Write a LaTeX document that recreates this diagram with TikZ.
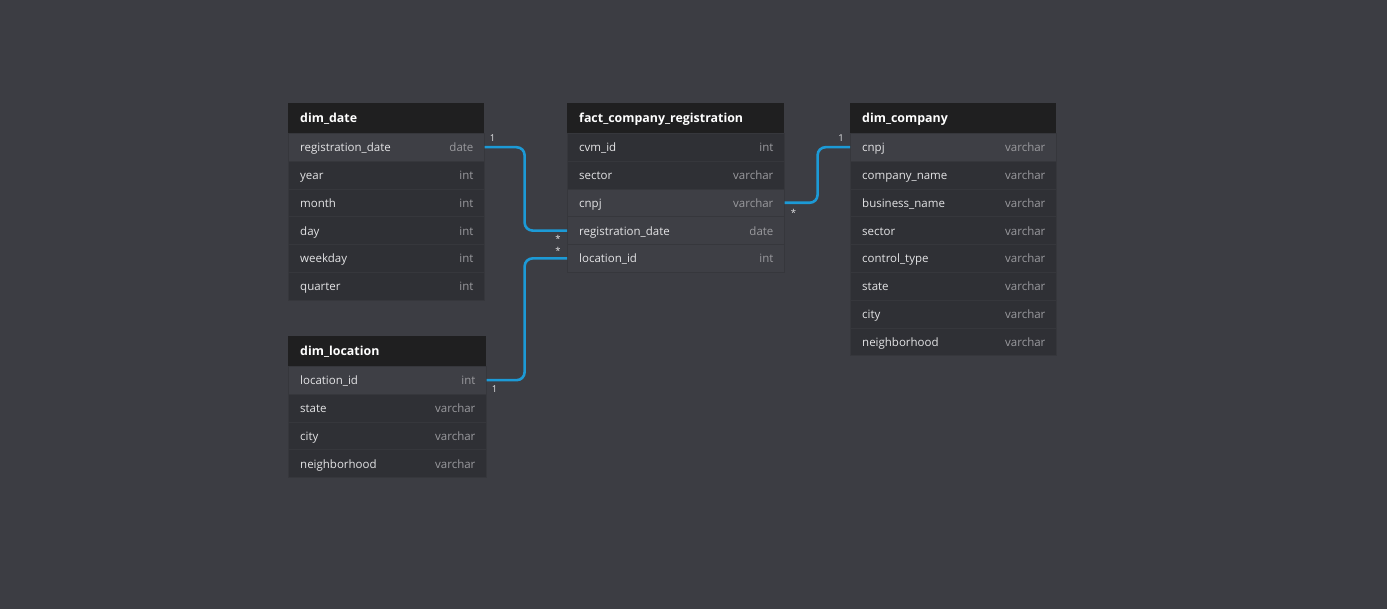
\documentclass[tikz,border=0pt]{standalone}
\usepackage{fontspec}
\setmainfont{Open Sans}
\definecolor{bgc}{HTML}{3C3D43}
\definecolor{hdrc}{HTML}{1F1F20}
\definecolor{rowc}{HTML}{2F3035}
\definecolor{keyc}{HTML}{3E3F45}
\definecolor{sepc}{HTML}{36373C}
\definecolor{fldc}{HTML}{E4E4E6}
\definecolor{typc}{HTML}{9A9A9E}
\definecolor{relc}{HTML}{1C9AD6}
\tikzset{
  x=1pt, y=-1pt,
  rowbox/.style={anchor=north west, inner sep=0pt, minimum height=27.8pt, fill=rowc, draw=sepc, line width=0.6pt},
  keyrow/.style={fill=keyc},
  hdrbox/.style={anchor=north west, inner sep=0pt, minimum height=30pt, fill=hdrc},
  fld/.style={anchor=west, xshift=12pt, yshift=-1.6pt, inner sep=0pt, text height=8.4pt, text depth=2.6pt, text=fldc, font=\fontsize{11.5}{13}\selectfont},
  typ/.style={anchor=east, xshift=-11pt, yshift=-1.6pt, inner sep=0pt, text height=8.4pt, text depth=2.6pt, text=typc, font=\fontsize{11.5}{13}\selectfont},
  htxt/.style={anchor=west, xshift=12pt, yshift=-1.6pt, inner sep=0pt, text height=9pt, text depth=3pt, text=white, font=\fontsize{12.4}{14}\selectfont\bfseries},
  rel/.style={draw=relc, line width=2.6pt, rounded corners=8pt},
  card/.style={inner sep=0pt, text=fldc, font=\fontsize{9.5}{10}\selectfont},
}
\newcommand\erow[7]{\node[rowbox,#7,minimum width=#4,label={[fld]west:#5},label={[typ]east:#6}] (#1) at (#2,#3) {};}
\newcommand\ehdr[5]{\node[hdrbox,minimum width=#4,label={[htxt]west:#5}] (#1) at (#2,#3) {};}
\begin{document}
\begin{tikzpicture}
\fill[bgc] (0,0) rectangle (1387,609);
\path[use as bounding box] (0,0) rectangle (1387,609);
% dim_date
\ehdr{date-h}{288}{103}{196}{dim\_date}
\erow{date-r1}{288}{133}{196}{registration\_date}{date}{keyrow}
\erow{date-r2}{288}{160.8}{196}{year}{int}{}
\erow{date-r3}{288}{188.6}{196}{month}{int}{}
\erow{date-r4}{288}{216.4}{196}{day}{int}{}
\erow{date-r5}{288}{244.2}{196}{weekday}{int}{}
\erow{date-r6}{288}{272}{196}{quarter}{int}{}
% fact
\ehdr{fact-h}{567}{103}{217}{fact\_company\_registration}
\erow{fact-r1}{567}{133}{217}{cvm\_id}{int}{}
\erow{fact-r2}{567}{160.8}{217}{sector}{varchar}{}
\erow{fact-r3}{567}{188.6}{217}{cnpj}{varchar}{keyrow}
\erow{fact-r4}{567}{216.4}{217}{registration\_date}{date}{keyrow}
\erow{fact-r5}{567}{244.2}{217}{location\_id}{int}{keyrow}
% dim_company
\ehdr{comp-h}{850}{103}{206}{dim\_company}
\erow{comp-r1}{850}{133}{206}{cnpj}{varchar}{keyrow}
\erow{comp-r2}{850}{160.8}{206}{company\_name}{varchar}{}
\erow{comp-r3}{850}{188.6}{206}{business\_name}{varchar}{}
\erow{comp-r4}{850}{216.4}{206}{sector}{varchar}{}
\erow{comp-r5}{850}{244.2}{206}{control\_type}{varchar}{}
\erow{comp-r6}{850}{272}{206}{state}{varchar}{}
\erow{comp-r7}{850}{299.8}{206}{city}{varchar}{}
\erow{comp-r8}{850}{327.6}{206}{neighborhood}{varchar}{}
% dim_location
\ehdr{loc-h}{288}{336}{198}{dim\_location}
\erow{loc-r1}{288}{366}{198}{location\_id}{int}{keyrow}
\erow{loc-r2}{288}{393.8}{198}{state}{varchar}{}
\erow{loc-r3}{288}{421.6}{198}{city}{varchar}{}
\erow{loc-r4}{288}{449.4}{198}{neighborhood}{varchar}{}
% relations
\draw[rel] (date-r1.east) -- ++(40,0) |- (fact-r4.west);
\draw[rel] (loc-r1.east) -- ++(38,0) |- (fact-r5.west);
\draw[rel] (fact-r3.east) -- ++(33,0) |- (comp-r1.west);
% cardinalities
\node[card] (c1) at ([shift={(8,-9)}]date-r1.east) {1};
\node[card] (c2) at ([shift={(-9,8)}]fact-r4.west) {*};
\node[card] (c3) at ([shift={(-9,-8)}]fact-r5.west) {*};
\node[card] (c4) at ([shift={(8,9)}]loc-r1.east) {1};
\node[card] (c5) at ([shift={(-9,-9)}]comp-r1.west) {1};
\node[card] (c6) at ([shift={(9,10)}]fact-r3.east) {*};
\end{tikzpicture}
\end{document}
